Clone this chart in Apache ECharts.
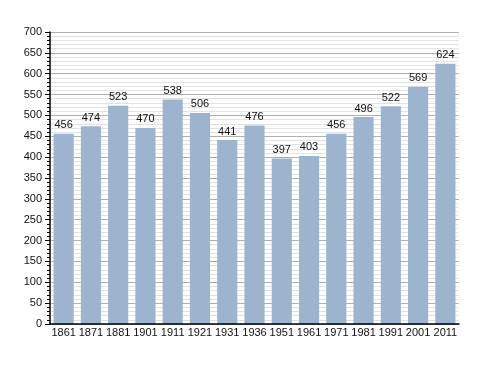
<!DOCTYPE html>
<html><head><meta charset="utf-8">
<script src="https://cdn.jsdelivr.net/npm/echarts@6/dist/echarts.min.js"></script>
<style>html,body{margin:0;padding:0;background:#fff}#c{width:488px;height:373px}</style>
</head><body><div id="c"></div>
<script>
var years = ['1861','1871','1881','1901','1911','1921','1931','1936','1951','1961','1971','1981','1991','2001','2011'];
var population = [456,474,523,470,538,506,441,476,397,403,456,496,522,569,624];
var chart = echarts.init(document.getElementById('c'), null, {renderer:'canvas'});
chart.setOption({
  animation:false,
  grid:{left:50,right:29,top:32,bottom:49,containLabel:false},
  xAxis:{type:'category',data:years,z:5,
    axisLine:{lineStyle:{color:'#000',width:1.5}},
    axisTick:{show:false},
    axisLabel:{interval:0,color:'#111',fontSize:11,fontFamily:'Liberation Sans, Arial, sans-serif',margin:3}},
  yAxis:{type:'value',min:0,max:700,interval:50,
    axisLine:{show:true,lineStyle:{color:'#000',width:1.5}},
    axisTick:{show:true,length:5,inside:false,lineStyle:{color:'#000'}},
    minorTick:{show:true,splitNumber:5,length:3,lineStyle:{color:'#000'}},
    axisLabel:{color:'#111',fontSize:11,fontFamily:'Liberation Sans, Arial, sans-serif',margin:8},
    splitLine:{show:true,lineStyle:{color:'#b0b0b0',width:1}},
    minorSplitLine:{show:true,lineStyle:{color:'#e2e2e2',width:1}}},
  series:[{type:'bar',data:population,barCategoryGap:'26%',
    itemStyle:{color:'#9db4cf'},
    label:{show:true,position:'top',color:'#111',fontSize:11,fontFamily:'Liberation Sans, Arial, sans-serif',distance:3}}]
});
</script></body></html>
